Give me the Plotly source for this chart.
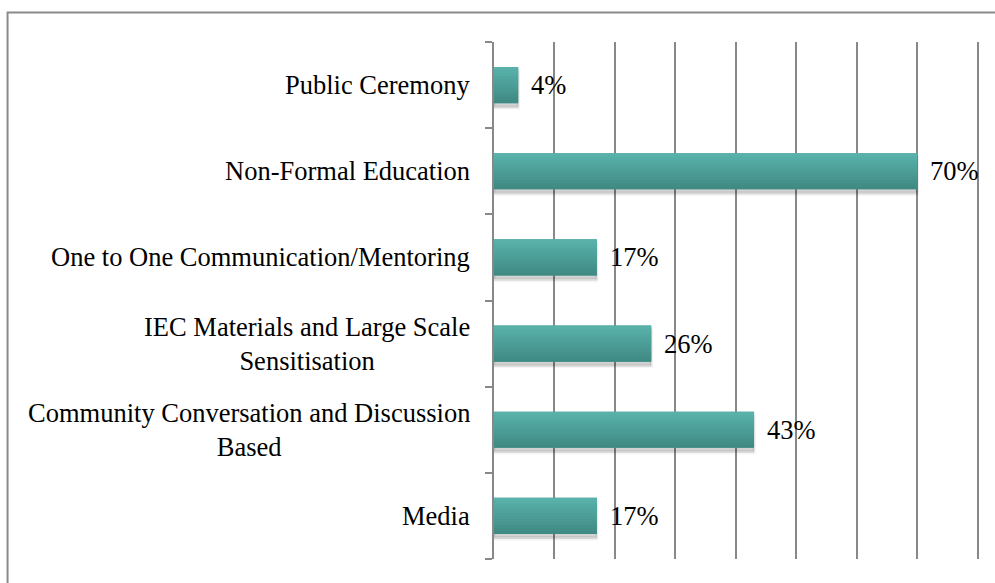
import plotly.graph_objects as go

categories = [
    "Media",
    "Community Conversation and Discussion<br>Based",
    "IEC Materials and Large Scale<br>Sensitisation",
    "One to One Communication/Mentoring",
    "Non-Formal Education",
    "Public Ceremony",
]
values = [17, 43, 26, 17, 70, 4]
value_labels = ["17%", "43%", "26%", "17%", "70%", "4%"]
x_ticks = [0, 10, 20, 30, 40, 50, 60, 70, 80]

FONT = "Liberation Serif"
FS = 26.5
BAR_W = 0.42
N_BANDS = 12
TOP = (88, 178, 170)
BOT = (64, 138, 132)

fig = go.Figure()

# soft shadow
for dy, op in [(0.06, 0.07), (0.04, 0.11)]:
    fig.add_trace(go.Bar(
        y=categories, x=values, orientation="h",
        width=BAR_W, offset=-BAR_W / 2 - dy,
        marker=dict(color=f"rgba(0,0,0,{op})", line=dict(width=3, color=f"rgba(0,0,0,{op/2})")),
        hoverinfo="skip", showlegend=False,
    ))

# solid base under the gradient
fig.add_trace(go.Bar(
    y=categories, x=values, orientation="h",
    width=BAR_W, offset=-BAR_W / 2,
    marker=dict(color="rgb(76,158,151)", line=dict(width=0)),
    hoverinfo="skip", showlegend=False,
))

# gradient bands (bottom dark -> top light)
bw = BAR_W / N_BANDS
for i in range(N_BANDS):
    t = i / (N_BANDS - 1)
    c = tuple(round(BOT[j] + (TOP[j] - BOT[j]) * t) for j in range(3))
    w = bw + (0.01 if i < N_BANDS - 1 else 0)
    fig.add_trace(go.Bar(
        y=categories, x=values, orientation="h",
        width=w, offset=-BAR_W / 2 + i * bw,
        marker=dict(color=f"rgb{c}", line=dict(width=0)),
        hoverinfo="skip", showlegend=False,
    ))

annotations = [
    dict(x=v, y=c, xref="x", yref="y", text=t, showarrow=False,
         xanchor="left", yanchor="middle", xshift=11,
         font=dict(family=FONT, size=FS, color="#000"))
    for c, v, t in zip(categories, values, value_labels)
]
annotations += [
    dict(x=0, y=c, xref="paper", yref="y", text=c, showarrow=False,
         xanchor="right", yanchor="middle", align="center", xshift=-22,
         font=dict(family=FONT, size=FS, color="#000"))
    for c in categories
]

fig.update_layout(
    width=995, height=583,
    margin=dict(l=494, r=16, t=42, b=24),
    paper_bgcolor="white", plot_bgcolor="white",
    barmode="overlay",
    font=dict(family=FONT, size=FS, color="#000"),
    annotations=annotations,
    shapes=[dict(type="rect", xref="paper", yref="paper",
                 x0=-1.003, x1=1.045, y0=-0.08, y1=1.0571,
                 line=dict(color="#8a8a8a", width=2), fillcolor="rgba(0,0,0,0)", layer="below")],
)
fig.update_xaxes(
    range=[0, 80.2], tickvals=x_ticks, showticklabels=False,
    showgrid=True, gridcolor="#888888", gridwidth=1.6,
    zeroline=False, showline=False, ticks="",
)
fig.update_yaxes(
    type="category", categoryorder="array", categoryarray=categories,
    showgrid=False, zeroline=False, showticklabels=False,
    showline=True, linecolor="#888888", linewidth=1.6,
    ticks="outside", ticklen=7, tickcolor="#888888", tickwidth=1.6,
    tickson="boundaries",
)

fig.write_html("out.html", config={"displayModeBar": False},
               post_script="document.body.style.margin='0';document.body.style.padding='0';")
